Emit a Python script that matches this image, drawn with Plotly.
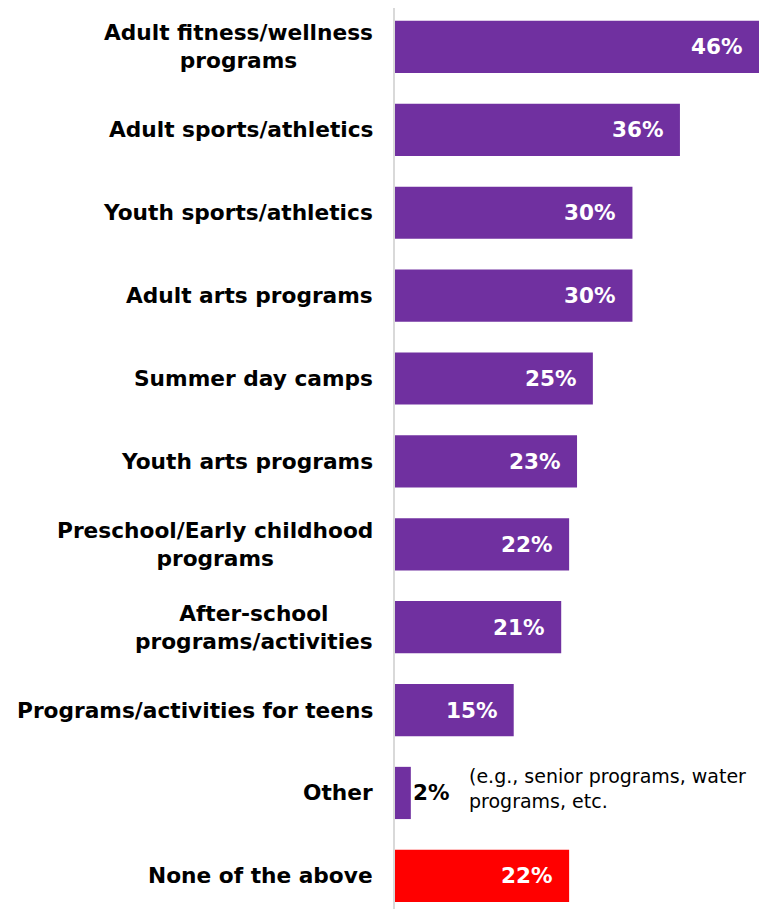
import plotly.graph_objects as go

categories = [
    "Adult fitness/wellness<br>programs",
    "Adult sports/athletics",
    "Youth sports/athletics",
    "Adult arts programs",
    "Summer day camps",
    "Youth arts programs",
    "Preschool/Early childhood<br>programs",
    "After-school<br>programs/activities",
    "Programs/activities for teens",
    "Other",
    "None of the above",
]
values = [46, 36, 30, 30, 25, 23, 22, 21, 15, 2, 22]
value_labels = ["46%", "36%", "30%", "30%", "25%", "23%", "22%", "21%", "15%", "2%", "22%"]
other_note = "(e.g., senior programs, water<br>programs, etc."

PURPLE = "#7030A0"
RED = "#FF0000"
colors = [RED if c == "None of the above" else PURPLE for c in categories]

FONT = "DejaVu Sans"

fig = go.Figure(
    go.Bar(
        x=values,
        y=categories,
        orientation="h",
        marker=dict(color=colors, line=dict(width=0)),
        width=0.63,
        hoverinfo="skip",
    )
)

annotations = []
for cat, v, lab in zip(categories, values, value_labels):
    annotations.append(dict(
        x=0, xref="paper", y=cat, yref="y",
        text=f"<b>{cat}</b>", showarrow=False,
        xanchor="right", yanchor="middle", align="center",
        xshift=-20,
        font=dict(family=FONT, size=21.7, color="#000000"),
    ))
    if v >= 5:
        annotations.append(dict(
            x=v, xref="x", y=cat, yref="y",
            text=f"<b>{lab}</b>", showarrow=False,
            xanchor="right", yanchor="middle", xshift=-15,
            font=dict(family=FONT, size=21.5, color="#FFFFFF"),
        ))
    else:
        annotations.append(dict(
            x=v, xref="x", y=cat, yref="y",
            text=f"<b>{lab}</b>", showarrow=False,
            xanchor="left", yanchor="middle", xshift=0,
            font=dict(family=FONT, size=21.5, color="#000000"),
        ))
        annotations.append(dict(
            x=v, xref="x", y=cat, yref="y",
            text=other_note, showarrow=False,
            xanchor="left", yanchor="middle", align="left", xshift=56, yshift=4,
            font=dict(family=FONT, size=19, color="#000000"),
        ))

fig.update_layout(
    width=759, height=901,
    margin=dict(l=387, r=0, t=0, b=0),
    paper_bgcolor="white", plot_bgcolor="white",
    showlegend=False,
    annotations=annotations,
    xaxis=dict(range=[0, 47], visible=False, fixedrange=True),
    yaxis=dict(
        range=[10.40, -0.47],
        showticklabels=False, ticks="",
        showgrid=False, zeroline=False,
        showline=True, linecolor="#D9D9D9", linewidth=1.5,
        fixedrange=True,
    ),
)

fig.write_html("out.html")
